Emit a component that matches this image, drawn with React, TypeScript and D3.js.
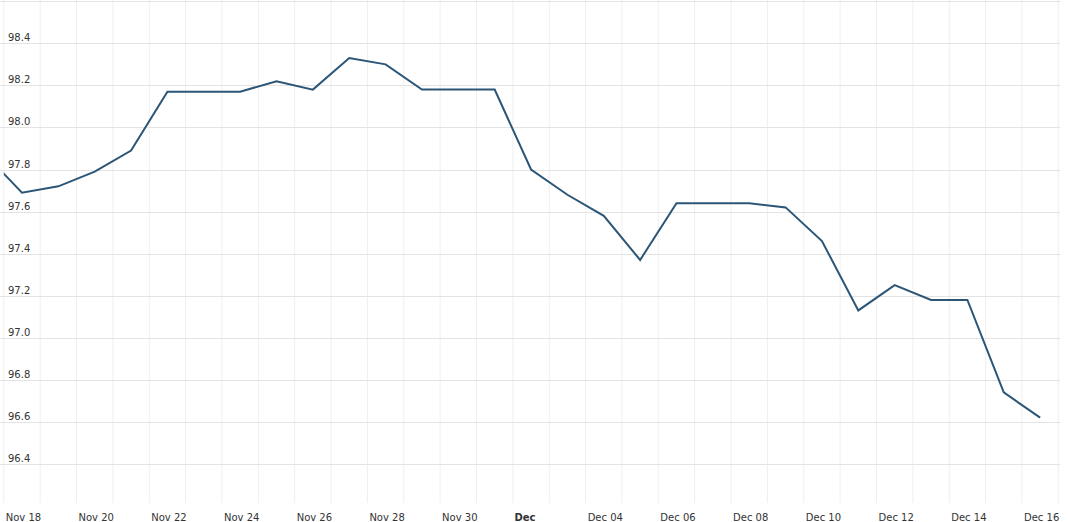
import React, { useEffect, useRef } from "react";
import * as d3 from "d3";

// daily values (Nov 17 is only partly visible at the left edge)
const dates = [
  "2024-11-17", "2024-11-18", "2024-11-19", "2024-11-20", "2024-11-21",
  "2024-11-22", "2024-11-23", "2024-11-24", "2024-11-25", "2024-11-26",
  "2024-11-27", "2024-11-28", "2024-11-29", "2024-11-30", "2024-12-01",
  "2024-12-02", "2024-12-03", "2024-12-04", "2024-12-05", "2024-12-06",
  "2024-12-07", "2024-12-08", "2024-12-09", "2024-12-10", "2024-12-11",
  "2024-12-12", "2024-12-13", "2024-12-14", "2024-12-15", "2024-12-16",
];
const values = [
  97.87, 97.69, 97.72, 97.79, 97.89,
  98.17, 98.17, 98.17, 98.22, 98.18,
  98.33, 98.30, 98.18, 98.18, 98.18,
  97.80, 97.68, 97.58, 97.37, 97.64,
  97.64, 97.64, 97.62, 97.46, 97.13,
  97.25, 97.18, 97.18, 96.74, 96.62,
];
const yTicks = [96.4, 96.6, 96.8, 97.0, 97.2, 97.4, 97.6, 97.8, 98.0, 98.2, 98.4];
const xTickDates = [
  "2024-11-18", "2024-11-20", "2024-11-22", "2024-11-24", "2024-11-26",
  "2024-11-28", "2024-11-30", "2024-12-02", "2024-12-04", "2024-12-06",
  "2024-12-08", "2024-12-10", "2024-12-12", "2024-12-14", "2024-12-16",
];
const xTickLabels = [
  "Nov 18", "Nov 20", "Nov 22", "Nov 24", "Nov 26",
  "Nov 28", "Nov 30", "Dec", "Dec 04", "Dec 06",
  "Dec 08", "Dec 10", "Dec 12", "Dec 14", "Dec 16",
];

const W = 1068;
const H = 522;

const App: React.FC = () => {
  const svgRef = useRef<SVGSVGElement | null>(null);

  useEffect(() => {
    if (!svgRef.current) return;
    const svg = d3.select(svgRef.current);
    svg.selectAll("*").remove();

    const left = 3.8;
    const right = 1058.3;
    const top = 1.3;
    const bottom = 503;

    const parse = d3.timeParse("%Y-%m-%d");
    const noon = (s: string) => d3.timeHour.offset(parse(s)!, 12);

    const x = d3
      .scaleTime()
      .domain([parse("2024-11-18")!, parse("2024-12-17")!])
      .range([left, right]);
    const y = d3.scaleLinear().domain([96.2, 98.6]).range([506, top]);

    const font = "'DejaVu Sans', Verdana, sans-serif";

    // vertical grid, one per day boundary
    const days = d3.timeDay.range(parse("2024-11-18")!, parse("2024-12-18")!);
    svg
      .append("g")
      .selectAll("line")
      .data(days)
      .enter()
      .append("line")
      .attr("x1", (d) => x(d))
      .attr("x2", (d) => x(d))
      .attr("y1", 0)
      .attr("y2", bottom)
      .attr("stroke", "#efefef")
      .attr("stroke-width", 1);

    // horizontal grid
    svg
      .append("g")
      .selectAll("line")
      .data([...yTicks, 98.6])
      .enter()
      .append("line")
      .attr("x1", left - 4)
      .attr("x2", right + 2)
      .attr("y1", (d) => Math.round(y(d)) + 0.5)
      .attr("y2", (d) => Math.round(y(d)) + 0.5)
      .attr("stroke", "#e3e3e3")
      .attr("stroke-width", 1.2);

    // y labels, above their grid line
    svg
      .append("g")
      .selectAll("text")
      .data(yTicks)
      .enter()
      .append("text")
      .attr("x", 8)
      .attr("y", (d) => y(d) - 2)
      .attr("font-family", font)
      .attr("font-size", 10)
      .attr("fill", "#333")
      .text((d) => d.toFixed(1));

    // x labels
    svg
      .append("g")
      .selectAll("text")
      .data(xTickDates)
      .enter()
      .append("text")
      .attr("x", (d, i) =>
        xTickLabels[i] === "Dec"
          ? x(d3.timeHour.offset(parse("2024-12-01")!, 32))
          : x(noon(d)) + 1.5
      )
      .attr("y", 521)
      .attr("text-anchor", "middle")
      .attr("font-family", font)
      .attr("font-size", 10)
      .attr("font-weight", (d, i) => (xTickLabels[i] === "Dec" ? "bold" : "normal"))
      .attr("fill", "#333")
      .text((d, i) => xTickLabels[i]);

    // line
    svg
      .append("clipPath")
      .attr("id", "plot-clip")
      .append("rect")
      .attr("x", left)
      .attr("y", 0)
      .attr("width", right - left)
      .attr("height", H);

    const line = d3
      .line<number>()
      .x((d, i) => x(noon(dates[i])))
      .y((d) => y(d));

    svg
      .append("path")
      .attr("clip-path", "url(#plot-clip)")
      .attr("d", line(values) || "")
      .attr("fill", "none")
      .attr("stroke", "#2b5677")
      .attr("stroke-width", 2)
      .attr("stroke-linejoin", "miter");
  }, []);

  return (
    <svg
      ref={svgRef}
      width={W}
      height={H}
      style={{ position: "absolute", left: 0, top: 0, background: "#fff" }}
    />
  );
};

export default App;
